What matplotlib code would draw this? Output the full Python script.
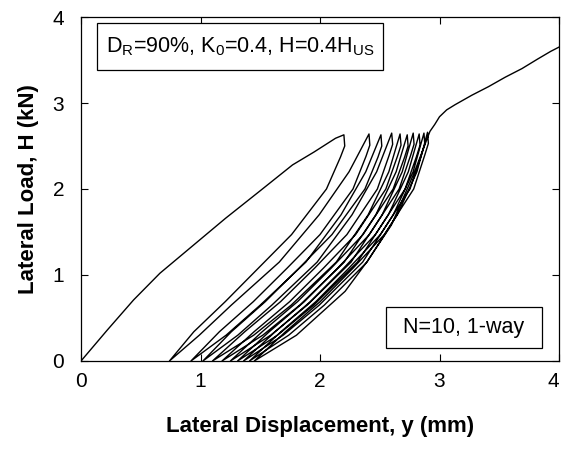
import matplotlib
matplotlib.use("Agg")
import matplotlib.pyplot as plt
from matplotlib.patches import Rectangle

plt.rcParams['font.family'] = ['Liberation Sans', 'DejaVu Sans']
plt.rcParams['mathtext.fontset'] = 'custom'
plt.rcParams['mathtext.rm'] = 'Liberation Sans'
plt.rcParams['mathtext.default'] = 'regular'

# initial (virgin) loading up to the first peak
init_x = [0, 0.22, 0.44, 0.66, 0.96, 1.21, 1.50, 1.77, 1.95, 2.13, 2.20]
init_y = [0, 0.36, 0.71, 1.02, 1.37, 1.66, 1.98, 2.28, 2.43, 2.59, 2.63]

# unloading branches, one per cycle (peak -> zero load)
unload_x = [
    [2.20, 2.207, 2.171, 2.054, 1.762, 1.485, 1.207, 0.944, 0.74],
    [2.41, 2.417, 2.385, 2.276, 2.000, 1.725, 1.442, 1.158, 0.92],
    [2.51, 2.517, 2.485, 2.376, 2.100, 1.825, 1.542, 1.258, 1.02],
    [2.60, 2.608, 2.578, 2.480, 2.225, 1.955, 1.670, 1.370, 1.10],
    [2.67, 2.678, 2.648, 2.551, 2.298, 2.029, 1.746, 1.448, 1.18],
    [2.73, 2.737, 2.708, 2.612, 2.360, 2.094, 1.812, 1.516, 1.25],
    [2.78, 2.787, 2.758, 2.662, 2.413, 2.148, 1.869, 1.575, 1.31],
    [2.83, 2.837, 2.808, 2.712, 2.463, 2.198, 1.919, 1.625, 1.36],
    [2.87, 2.877, 2.848, 2.753, 2.505, 2.242, 1.965, 1.673, 1.41],
    [2.90, 2.907, 2.878, 2.784, 2.538, 2.277, 2.001, 1.711, 1.45],
]
unload_y = [
    [2.63, 2.50, 2.37, 2.00, 1.47, 1.08, 0.69, 0.34, 0],
    [2.64, 2.51, 2.38, 2.00, 1.47, 1.08, 0.69, 0.34, 0],
    [2.63, 2.50, 2.37, 2.00, 1.47, 1.08, 0.69, 0.34, 0],
    [2.65, 2.52, 2.39, 2.00, 1.47, 1.08, 0.69, 0.34, 0],
    [2.64, 2.51, 2.38, 2.00, 1.47, 1.08, 0.69, 0.34, 0],
    [2.63, 2.50, 2.37, 2.00, 1.47, 1.08, 0.69, 0.34, 0],
    [2.65, 2.52, 2.39, 2.00, 1.47, 1.08, 0.69, 0.34, 0],
    [2.64, 2.51, 2.38, 2.00, 1.47, 1.08, 0.69, 0.34, 0],
    [2.65, 2.52, 2.39, 2.00, 1.47, 1.08, 0.69, 0.34, 0],
    [2.66, 2.53, 2.40, 2.00, 1.47, 1.08, 0.69, 0.34, 0],
]

# reloading branches (zero load -> next peak)
reload_x = [
    [0.74, 0.990, 1.258, 1.659, 1.993, 2.243, 2.41],
    [0.92, 1.214, 1.500, 1.882, 2.176, 2.383, 2.51],
    [1.02, 1.312, 1.597, 1.976, 2.268, 2.474, 2.60],
    [1.10, 1.445, 1.759, 2.136, 2.403, 2.576, 2.67],
    [1.18, 1.521, 1.831, 2.203, 2.467, 2.637, 2.73],
    [1.25, 1.587, 1.893, 2.260, 2.520, 2.688, 2.78],
    [1.31, 1.644, 1.948, 2.313, 2.572, 2.739, 2.83],
    [1.36, 1.692, 1.994, 2.357, 2.613, 2.779, 2.87],
    [1.41, 1.738, 2.036, 2.393, 2.647, 2.811, 2.90],
    [1.45, 1.803, 2.210, 2.391, 2.597, 2.780, 2.92],
]
reload_y = [
    [0, 0.30, 0.65, 1.15, 1.70, 2.20, 2.64],
    [0, 0.30, 0.65, 1.15, 1.70, 2.20, 2.63],
    [0, 0.30, 0.65, 1.15, 1.70, 2.20, 2.65],
    [0, 0.30, 0.65, 1.15, 1.70, 2.20, 2.64],
    [0, 0.30, 0.65, 1.15, 1.70, 2.20, 2.63],
    [0, 0.30, 0.65, 1.15, 1.70, 2.20, 2.65],
    [0, 0.30, 0.65, 1.15, 1.70, 2.20, 2.64],
    [0, 0.30, 0.65, 1.15, 1.70, 2.20, 2.65],
    [0, 0.30, 0.65, 1.15, 1.70, 2.20, 2.66],
    [0, 0.30, 0.81, 1.15, 1.58, 2.16, 2.67],
]

# monotonic loading after the last cycle
final_x = [2.92, 2.96, 3.00, 3.06, 3.13, 3.27, 3.41, 3.55, 3.69, 3.82, 3.93, 4.00]
final_y = [2.67, 2.75, 2.84, 2.92, 2.98, 3.09, 3.19, 3.30, 3.40, 3.51, 3.60, 3.65]

x_ticks = [0, 1, 2, 3, 4]
y_ticks = [0, 1, 2, 3, 4]

# stitch everything into one continuous load path
path_x = list(init_x)
path_y = list(init_y)
for ux, uy, rx, ry in zip(unload_x, unload_y, reload_x, reload_y):
    path_x += ux + rx
    path_y += uy + ry
path_x += final_x
path_y += final_y

fig = plt.figure(figsize=(5.61, 4.55), dpi=100)
ax = fig.add_axes([81 / 561, 94 / 455, 478 / 561, 344 / 455])

ax.plot(path_x, path_y, color='black', lw=1.0)

ax.set_xlim(0, 4)
ax.set_ylim(0, 4)
ax.set_xticks(x_ticks)
ax.set_yticks(y_ticks)
ax.tick_params(direction='in', length=5, width=0.8, top=True, right=True,
               labelsize=15, pad=8)
ax.tick_params(axis='y', pad=12)
# last x label would run off the figure edge, keep it inside like the original
ax.get_xticklabels()[-1].set_horizontalalignment('right')
for s in ax.spines.values():
    s.set_linewidth(0.9)

ax.set_xlabel('Lateral Displacement, y (mm)', fontsize=16, fontweight='bold',
              labelpad=18)
ax.set_ylabel('Lateral Load, H (kN)', fontsize=16, fontweight='bold',
              labelpad=10)

# annotation boxes (drawn as plain rectangles so their size matches the scan)
ax.add_patch(Rectangle((0.13, 3.38), 2.40, 0.55, fc='white', ec='black',
                       lw=0.9, zorder=3))
ax.text(1.33, 3.655, r'D$_{R}$=90%, K$_{0}$=0.4, H=0.4H$_{US}$', fontsize=15.5,
        ha='center', va='center', zorder=4)
ax.add_patch(Rectangle((2.55, 0.15), 1.31, 0.48, fc='white', ec='black',
                       lw=0.9, zorder=3))
ax.text(3.205, 0.39, 'N=10, 1-way', fontsize=15.5, ha='center', va='center',
        zorder=4)

fig.savefig('out.png', dpi=100)
